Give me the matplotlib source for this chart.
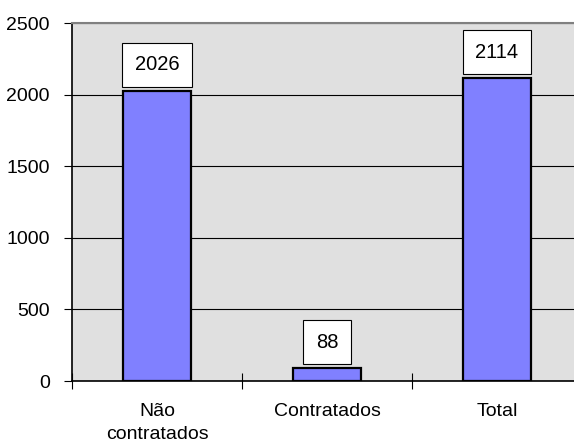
import matplotlib
matplotlib.use('Agg')
import matplotlib.pyplot as plt
import numpy as np

plt.rcParams['font.family'] = ['Liberation Sans', 'DejaVu Sans']

categorias = ['Não\ncontratados', 'Contratados', 'Total']
valores = [2026, 88, 2114]
yticks = [0, 500, 1000, 1500, 2000, 2500]

fig = plt.figure(figsize=(5.74, 4.48), dpi=100)
ax = fig.add_axes([72 / 574, 67 / 448, 510 / 574, 358 / 448])
ax.set_facecolor('#e0e0e0')

x = np.arange(len(categorias))
ax.bar(x, valores, width=0.4, color='#8080ff', edgecolor='black', linewidth=1.6, zorder=3)

# rótulos com caixa branca
for xi, v in zip(x, valores):
    ax.annotate(str(v), (xi, v), xytext=(0, 12), textcoords='offset points',
                ha='center', va='bottom', fontsize=14.5, zorder=4,
                bbox=dict(boxstyle='square,pad=0.62', fc='white', ec='black', lw=0.8))

ax.set_xlim(-0.5, 2.5)
ax.set_ylim(0, 2500)
ax.set_yticks(yticks)
ax.yaxis.grid(True, color='black', linewidth=0.8, zorder=1)
ax.set_axisbelow(True)

# ticks do eixo x nas fronteiras entre categorias
ax.set_xticks([-0.5, 0.5, 1.5, 2.5])
ax.set_xticklabels([])
ax.set_xticks(x, minor=True)
ax.set_xticklabels(categorias, minor=True, fontsize=14, linespacing=1.45)
ax.tick_params(axis='x', which='major', direction='inout', length=12, width=0.8)
ax.tick_params(axis='x', which='minor', length=0, pad=16)
ax.tick_params(axis='y', direction='out', length=6, width=0.8, pad=10, labelsize=14)

ax.spines['top'].set_color('#808080')
ax.spines['top'].set_linewidth(1.5)
ax.spines['right'].set_visible(False)
ax.spines['left'].set_linewidth(1.2)
ax.spines['bottom'].set_linewidth(1.2)

plt.savefig('out.png', dpi=100)
